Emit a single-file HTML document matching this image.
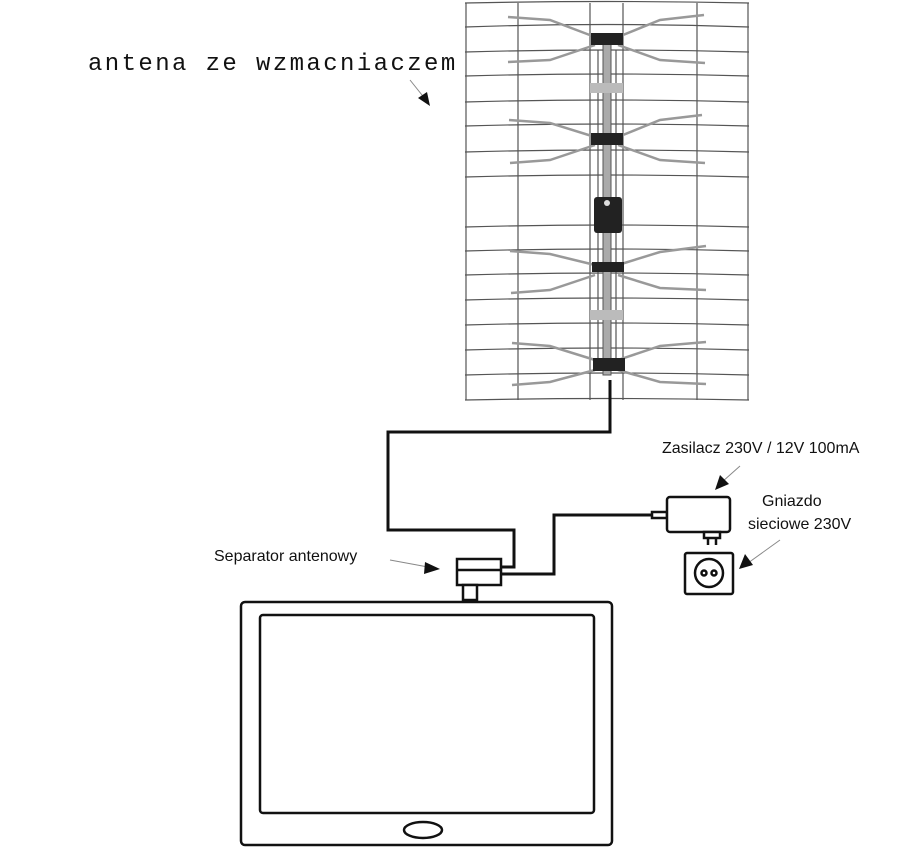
<!DOCTYPE html>
<html><head><meta charset="utf-8"><style>
html,body{margin:0;padding:0;background:#fff;}
svg{display:block;}
text{font-family:"Liberation Sans",sans-serif;fill:#111;}
</style></head><body>
<svg width="900" height="847" viewBox="0 0 900 847" xmlns="http://www.w3.org/2000/svg">
<g stroke="#555" stroke-width="1.2" fill="none">
<path d="M465 3 Q607 0 749 3"/>
<path d="M465 27 Q607 22 749 27"/>
<path d="M465 52 Q607 48 749 52"/>
<path d="M465 76 Q607 72 749 76"/>
<path d="M465 102 Q607 98 749 102"/>
<path d="M465 126 Q607 122 749 126"/>
<path d="M465 152 Q607 148 749 152"/>
<path d="M465 177 Q607 173 749 177"/>
<path d="M465 227 Q607 223 749 227"/>
<path d="M465 251 Q607 247 749 251"/>
<path d="M465 275 Q607 271 749 275"/>
<path d="M465 300 Q607 296 749 300"/>
<path d="M465 325 Q607 321 749 325"/>
<path d="M465 350 Q607 346 749 350"/>
<path d="M465 375 Q607 371 749 375"/>
<path d="M465 400 Q607 397 749 400"/>
<path d="M466 3 L466 400"/><path d="M748 3 L748 400"/>
<path d="M518 3 L518 400"/><path d="M590 3 L590 400"/><path d="M623 3 L623 400"/><path d="M697 3 L697 400"/>
<path d="M598 50 L598 360"/><path d="M616 50 L616 360"/>
</g>
<rect x="603" y="35" width="8" height="340" fill="#aaa" stroke="#555"/>
<rect x="590" y="83" width="33" height="10" fill="#bbb"/>
<rect x="590" y="310" width="33" height="10" fill="#bbb"/>
<g stroke="#999" stroke-width="2.5" fill="none">
<path d="M508 17 L550 20 L595 37 M508 62 L550 60 L595 45 M704 15 L660 20 L618 37 M705 63 L660 60 L618 45"/>
<path d="M509 120 L550 123 L595 137 M510 163 L550 160 L595 145 M702 115 L660 120 L618 137 M705 163 L660 160 L618 145"/>
<path d="M510 251 L550 254 L595 265 M511 293 L550 290 L595 275 M706 246 L660 252 L618 265 M706 290 L660 288 L618 275"/>
<path d="M512 343 L550 346 L595 360 M512 385 L550 382 L595 370 M706 342 L660 346 L618 360 M706 384 L660 382 L618 370"/>
</g>
<g fill="#222">
<rect x="591" y="33" width="32" height="12"/><rect x="591" y="133" width="32" height="12"/>
<rect x="592" y="262" width="32" height="10"/><rect x="593" y="358" width="32" height="13"/>
<rect x="594" y="197" width="28" height="36" rx="3"/>
</g>
<circle cx="607" cy="203" r="3" fill="#ddd"/>
<g stroke="#111" stroke-width="3" fill="none">
<path d="M610 380 L610 432 L388 432 L388 530 L514 530 L514 567 L501 567"/>
<path d="M501 574 L554 574 L554 515 L652 515"/>
</g>
<g stroke="#111" stroke-width="2.5" fill="#fff">
<rect x="457" y="559" width="44" height="26"/>
<line x1="457" y1="570" x2="501" y2="570"/>
<rect x="463" y="585" width="14" height="15"/>
<rect x="652" y="512" width="15" height="6"/>
<rect x="667" y="497" width="63" height="35" rx="3"/>
<rect x="704" y="532" width="16" height="6"/>
<line x1="708" y1="538" x2="708" y2="545"/><line x1="716" y1="538" x2="716" y2="545"/>
<rect x="685" y="553" width="48" height="41" rx="2"/>
<circle cx="709" cy="573" r="14"/>
<circle cx="704" cy="573" r="2.5"/><circle cx="714" cy="573" r="2.5"/>
</g>
<g stroke="#111" stroke-width="2.5" fill="none">
<rect x="241" y="602" width="371" height="243" rx="4"/>
<rect x="260" y="615" width="334" height="198" rx="3"/>
<ellipse cx="423" cy="830" rx="19" ry="8"/>
</g>
<g stroke="#888" stroke-width="1" fill="#111">
<line x1="410" y1="80" x2="426" y2="100"/><polygon points="430,106 418,98 427,92" stroke="none"/>
<line x1="390" y1="560" x2="428" y2="567"/><polygon points="440,569 425,562 424,574" stroke="none"/>
<line x1="740" y1="466" x2="722" y2="482"/><polygon points="715,490 720,475 729,484" stroke="none"/>
<line x1="780" y1="540" x2="748" y2="563"/><polygon points="739,569 745,554 753,565" stroke="none"/>
</g>
<text x="88" y="70" style="font-family:'Liberation Mono',monospace;font-size:24px;letter-spacing:2.4px">antena ze wzmacniaczem</text>
<text x="662" y="453" font-size="16">Zasilacz 230V / 12V 100mA</text>
<text x="762" y="506" font-size="16">Gniazdo</text>
<text x="748" y="529" font-size="16">sieciowe 230V</text>
<text x="214" y="561" font-size="16">Separator antenowy</text>
</svg>
</body></html>
